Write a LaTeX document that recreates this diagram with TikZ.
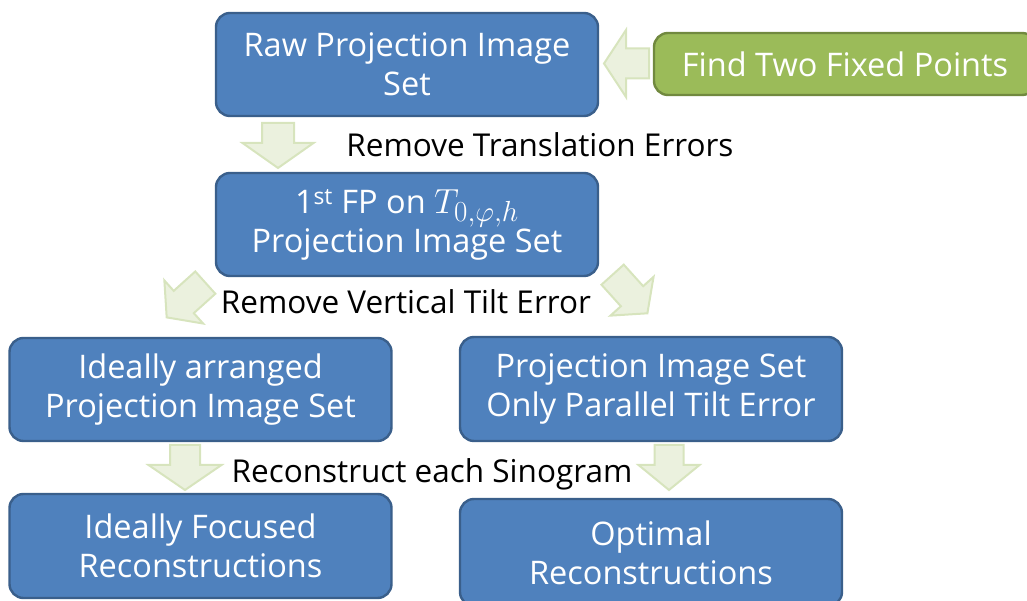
\documentclass[tikz,border=0pt]{standalone}
\usepackage{fontspec}
\setmainfont{Open Sans}
\begin{document}
\begin{tikzpicture}[x=1pt,y=1pt,
  bluebox/.style={draw=blueedge, fill=bluefill, line width=2.4pt, rounded corners=14pt,
    minimum width=382pt, text=white, align=center, inner sep=0pt,
    font=\fontsize{32.5}{39}\selectfont},
  greenbox/.style={bluebox, draw=greenedge, fill=greenfill},
  label/.style={text=black, inner sep=0pt, font=\fontsize{31.5}{38}\selectfont},
  barrow/.style={draw=arrowedge, fill=arrowfill, line width=2pt, line join=miter}]
\definecolor{bluefill}{HTML}{4F81BD}
\definecolor{blueedge}{HTML}{3A5F8B}
\definecolor{greenfill}{HTML}{9BBB59}
\definecolor{greenedge}{HTML}{71893F}
\definecolor{arrowfill}{HTML}{EBF1DE}
\definecolor{arrowedge}{HTML}{D7E4BD}
% block arrow: centre, direction, length, head width, shaft width, head length
\newcommand\blockarrow[6]{%
  \begin{scope}[shift={#1}, rotate=#2]
    \path[barrow] ({-#3/2},{-#5/2}) -- ({#3/2-#6},{-#5/2}) -- ({#3/2-#6},{-#4/2})
      -- ({#3/2},0) -- ({#3/2-#6},{#4/2}) -- ({#3/2-#6},{#5/2}) -- ({-#3/2},{#5/2}) -- cycle;
  \end{scope}}
\useasboundingbox (0,0) rectangle (1027,601);
\clip (0,0) rectangle (1027,601);

% processing steps
\node[bluebox, minimum height=103pt] (raw) at (407,536.5) {Raw Projection Image\\Set};
\node[greenbox, minimum height=62pt] (fixed) at (845,537) {Find Two Fixed Points};
\node[bluebox, minimum height=103pt] (first) at (407,376.5)
  {1\textsuperscript{st} FP on \scalebox{1.4}{$T_{0,\varphi,h}$}\\Projection Image Set};
\node[bluebox, minimum height=103pt] (ideal) at (200.5,211.5) {Ideally arranged\\Projection Image Set};
\node[bluebox, minimum height=104pt] (parallel) at (651,212) {Projection Image Set\\Only Parallel Tilt Error};
\node[bluebox, minimum height=104pt] (focused) at (200.5,55) {Ideally Focused\\Reconstructions};
\node[bluebox, minimum height=107pt] (optimal) at (651,48.5) {Optimal\\Reconstructions};

% step labels
\node[label] (ltrans) at (540,456) {Remove Translation Errors};
\node[label] (ltilt) at (406,299) {Remove Vertical Tilt Error};
\node[label] (lrecon) at (432,127) {Reconstruct each Sinogram};

% flow arrows
\blockarrow{(626.5,537.5)}{180}{45}{67}{30}{22}
\blockarrow{(278,455.5)}{-90}{45}{71}{32}{25}
\blockarrow{(186,301)}{-138}{52}{58}{30}{23}
\blockarrow{(630,307)}{-48}{52}{58}{30}{23}
\blockarrow{(185,133.5)}{-90}{45}{73}{30}{25}
\blockarrow{(669,133.5)}{-90}{45}{61}{29}{25}
\end{tikzpicture}
\end{document}
